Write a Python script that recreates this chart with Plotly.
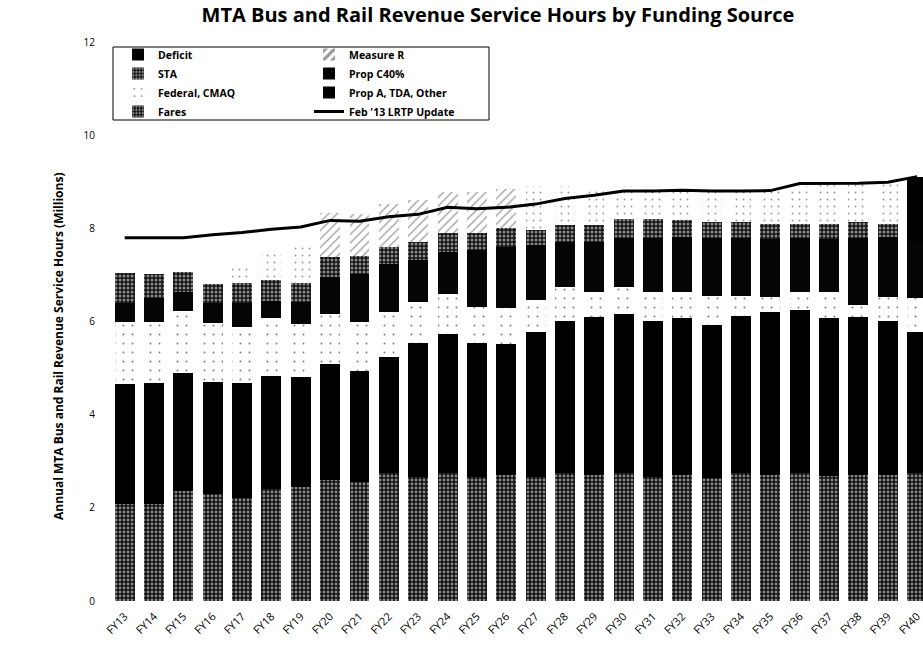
import plotly.graph_objects as go

years = ["FY13", "FY14", "FY15", "FY16", "FY17", "FY18", "FY19", "FY20", "FY21", "FY22",
         "FY23", "FY24", "FY25", "FY26", "FY27", "FY28", "FY29", "FY30", "FY31", "FY32",
         "FY33", "FY34", "FY35", "FY36", "FY37", "FY38", "FY39", "FY40"]

fares = [2.08, 2.08, 2.36, 2.30, 2.21, 2.40, 2.45, 2.60, 2.56, 2.74,
         2.67, 2.74, 2.67, 2.70, 2.67, 2.74, 2.70, 2.74, 2.67, 2.70,
         2.63, 2.74, 2.70, 2.74, 2.68, 2.70, 2.70, 2.74]
prop_a_tda = [2.57, 2.61, 2.53, 2.41, 2.46, 2.43, 2.35, 2.48, 2.38, 2.50,
              2.87, 3.00, 2.87, 2.82, 3.11, 3.28, 3.40, 3.43, 3.35, 3.37,
              3.29, 3.38, 3.50, 3.50, 3.39, 3.40, 3.32, 3.04]
federal_cmaq = [1.34, 1.30, 1.34, 1.25, 1.22, 1.24, 1.14, 1.09, 1.05, 0.97,
                0.88, 0.86, 0.78, 0.76, 0.68, 0.72, 0.54, 0.57, 0.62, 0.57,
                0.63, 0.43, 0.33, 0.40, 0.57, 0.25, 0.51, 0.72]
prop_c40 = [0.40, 0.51, 0.41, 0.43, 0.50, 0.38, 0.48, 0.79, 1.04, 1.03,
            0.90, 0.90, 1.21, 1.32, 1.18, 0.97, 1.07, 1.06, 1.16, 1.18,
            1.25, 1.25, 1.25, 1.16, 1.14, 1.45, 1.29, 1.20]
sta = [0.66, 0.53, 0.42, 0.41, 0.43, 0.44, 0.41, 0.43, 0.37, 0.36,
       0.39, 0.39, 0.36, 0.40, 0.32, 0.36, 0.36, 0.39, 0.39, 0.36,
       0.34, 0.34, 0.32, 0.30, 0.32, 0.34, 0.27, 0.00]
measure_r = [0.00, 0.00, 0.00, 0.00, 0.33, 0.56, 0.82, 0.94, 0.90, 0.93,
             0.89, 0.89, 0.89, 0.85, 0.94, 0.83, 0.78, 0.71, 0.71, 0.67,
             0.66, 0.66, 0.70, 0.80, 0.85, 0.81, 0.86, 0.00]
deficit = [0.00, 0.00, 0.00, 0.00, 0.00, 0.00, 0.00, 0.00, 0.00, 0.00,
           0.00, 0.00, 0.00, 0.00, 0.00, 0.00, 0.00, 0.00, 0.00, 0.00,
           0.00, 0.00, 0.00, 0.00, 0.00, 0.00, 0.00, 1.41]
lrtp_update = [7.80, 7.80, 7.80, 7.86, 7.91, 7.98, 8.03, 8.17, 8.15, 8.25,
               8.30, 8.45, 8.42, 8.45, 8.52, 8.64, 8.71, 8.80, 8.80, 8.82,
               8.80, 8.80, 8.81, 8.96, 8.96, 8.97, 8.99, 9.11]

W, H = 923, 656
L, R, T, B = 110, 0, 42, 55
pw = W - L - R
ph = H - T - B

FONT = "Open Sans"

# texture style for the Measure R bars (hatched FY20-FY26, speckled elsewhere;
# the empty leading bars keep the hatch so the legend swatch shows it)
hatched = [i <= 3 or 7 <= i <= 13 for i in range(len(years))]
mr_shapes = ["/" if h else "." for h in hatched]
mr_solid = [0.2 if h else 0.06 for h in hatched]
mr_sizes = [6 if h else 7 for h in hatched]

fig = go.Figure()

# (name, values, color, pattern, legend, rank)
series = [
    ("Fares", fares, "#111111", dict(shape=".", fgcolor="white", size=4, solidity=0.4), "legend", 4),
    ("Prop A, TDA, Other", prop_a_tda, "#000000", None, "legend2", 3),
    ("Federal, CMAQ", federal_cmaq, "#ffffff", dict(shape=".", fgcolor="black", size=9, solidity=0.04), "legend", 3),
    ("Prop C40%", prop_c40, "#050505", None, "legend2", 2),
    ("STA", sta, "#111111", dict(shape=".", fgcolor="white", size=4, solidity=0.45), "legend", 2),
    ("Measure R", measure_r, "#ffffff", dict(shape=mr_shapes, fgcolor="#333333", size=mr_sizes, solidity=mr_solid), "legend2", 1),
    ("Deficit", deficit, "#000000", None, "legend", 1),
]

for name, vals, color, pat, leg, rank in series:
    marker = dict(color=color, line=dict(width=0))
    if pat is not None:
        marker["pattern"] = pat
    fig.add_trace(go.Bar(
        x=years, y=vals, name=name, marker=marker,
        legend=leg, legendrank=rank,
    ))

fig.add_trace(go.Scatter(
    x=years, y=lrtp_update, name="Feb '13 LRTP Update", mode="lines",
    line=dict(color="black", width=3), legend="legend2", legendrank=4,
))

legend_font = dict(family=FONT, size=10.5, color="black", weight="bold")

fig.update_layout(
    width=W, height=H,
    margin=dict(l=L, r=R, t=T, b=B, autoexpand=False),
    paper_bgcolor="white", plot_bgcolor="white",
    barmode="stack", bargap=0.32,
    title=dict(
        text="MTA Bus and Rail Revenue Service Hours by Funding Source",
        x=498 / W, xref="container", xanchor="center",
        y=1 - 15 / H, yref="container", yanchor="middle",
        font=dict(family=FONT, size=20, color="black", weight="bold"),
    ),
    xaxis=dict(
        range=[-0.5, 27.2], tickangle=-45, showgrid=False, zeroline=False,
        showline=False, ticks="", ticklabelstandoff=6,
        tickfont=dict(family=FONT, size=11, color="black"),
    ),
    yaxis=dict(
        range=[0, 12], tickvals=[0, 2, 4, 6, 8, 10, 12], showgrid=False,
        zeroline=False, showline=False, ticks="", ticklabelstandoff=14,
        tickfont=dict(family=FONT, size=10, color="black"),
    ),
    legend=dict(
        xref="container", yref="container",
        x=118 / W, y=1 - 40 / H, xanchor="left", yanchor="top",
        bgcolor="rgba(0,0,0,0)", borderwidth=0, font=legend_font,
        traceorder="normal", tracegroupgap=0, itemwidth=30,
    ),
    legend2=dict(
        xref="container", yref="container",
        x=309 / W, y=1 - 40 / H, xanchor="left", yanchor="top",
        bgcolor="rgba(0,0,0,0)", borderwidth=0, font=legend_font,
        traceorder="normal", tracegroupgap=0, itemwidth=30,
    ),
    shapes=[dict(
        type="rect", xref="paper", yref="paper",
        x0=(113 - L) / pw, x1=(489 - L) / pw,
        y0=(H - B - 120) / ph, y1=(H - B - 47) / ph,
        line=dict(color="black", width=1), fillcolor="rgba(0,0,0,0)",
        layer="above",
    )],
    annotations=[dict(
        text="Annual MTA Bus and Rail Revenue Service Hours (Millions)",
        xref="paper", yref="paper",
        x=(58 - L) / pw, y=(H - B - 347) / ph,
        xanchor="center", yanchor="middle", textangle=-90, showarrow=False,
        font=dict(family=FONT, size=12, color="black", weight="bold"),
    )],
)

fig.write_html(
    "out.html",
    config={"displayModeBar": False},
    post_script="document.body.style.margin='0px';",
)
